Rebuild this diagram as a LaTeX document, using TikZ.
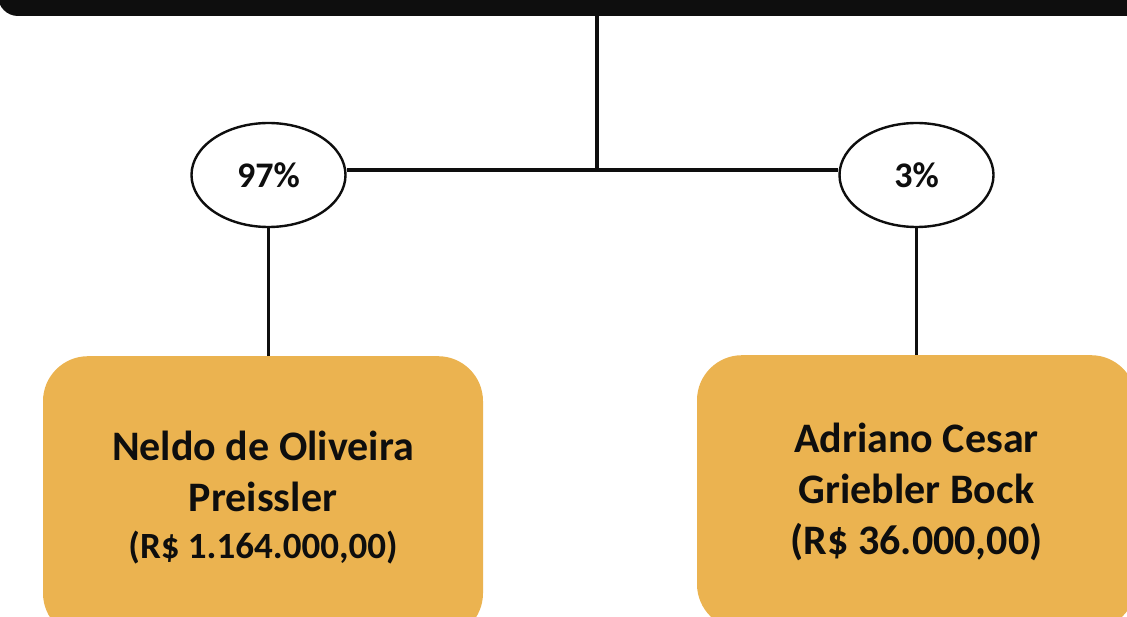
\documentclass[tikz,border=0pt]{standalone}
\usepackage{fontspec}
\setmainfont{Carlito}
\usetikzlibrary{shapes.geometric}
\definecolor{boxfill}{RGB}{235,179,80}
\definecolor{ink}{RGB}{14,14,14}
\begin{document}
\begin{tikzpicture}[x=1pt,y=-1pt,
  line/.style={draw=ink,line width=3.2pt},
  pct/.style={ellipse,draw=ink,line width=2.4pt,fill=white,minimum width=154pt,minimum height=104pt,inner sep=0pt,font=\bfseries\fontsize{36}{40}\selectfont,text=ink},
  person/.style={rectangle,rounded corners=45pt,fill=boxfill,minimum width=440pt,minimum height=282pt,inner sep=0pt,align=center,text=ink,font=\bfseries\fontsize{42}{51}\selectfont,anchor=north}]
\useasboundingbox (0,0) rectangle (1127,617);
\begin{scope}
\clip (0,0) rectangle (1127,617);
\fill[ink,rounded corners=20pt] (-2,-40) rectangle (1160,16);
\coordinate (top) at (597,16);
\coordinate (hub) at (597,170);
\node[pct] (e1) at (268.5,175) {97\%};
\node[pct] (e2) at (916.5,175) {3\%};
\node[person] (b1) at (263,356) {Neldo de Oliveira\\Preissler\\[-4pt]{\fontsize{37}{45}\selectfont (R\$ 1.164.000,00)}};
\node[person,minimum width=439pt,minimum height=274pt] (b2) at (916.5,355) {Adriano Cesar\\Griebler Bock\\(R\$ 36.000,00)};
\draw[line] (top) -- (hub);
\draw[line] (hub) -- (hub -| e1.east);
\draw[line] (hub) -- (hub -| e2.west);
\draw[line] (e1.south) -- (e1.south |- b1.north);
\draw[line] (e2.south) -- (e2.south |- b2.north);
\end{scope}
\end{tikzpicture}
\end{document}
